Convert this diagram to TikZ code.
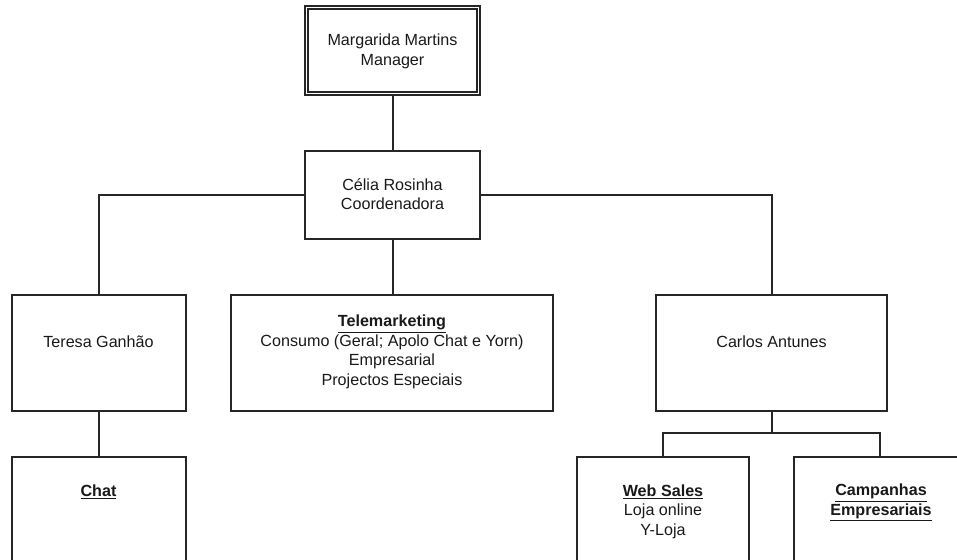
\documentclass[tikz,border=0pt]{standalone}
\usepackage{fontspec}
\setmainfont{Liberation Sans}
\begin{document}
\begin{tikzpicture}[x=0.75pt,y=-0.75pt,
  box/.style={draw=black!85,line width=1.4pt,minimum width=#1,inner sep=0pt},
  conn/.style={draw=black!85,line width=1.5pt},
  txt/.style={align=center,inner sep=0pt,text=black!90,font=\fontsize{12.1}{14.6}\selectfont}
]
\useasboundingbox (0,0) rectangle (957,560);
\clip (0,0) rectangle (957,560);

% boxes
\node[box=131.25pt,minimum height=66.75pt] (mgr) at (392.5,50.5) {};
\draw[line width=1.2pt,black!85] ([xshift=3pt,yshift=-3pt]mgr.north west) rectangle ([xshift=-3pt,yshift=3pt]mgr.south east);
\node[box=131.25pt,minimum height=66pt] (coord) at (392.5,195) {};
\node[box=130.5pt,minimum height=87pt] (teresa) at (99,353) {};
\node[box=241.5pt,minimum height=87pt] (tele) at (392,353) {};
\node[box=173.25pt,minimum height=87pt] (carlos) at (771.5,353) {};
\node[box=130.5pt,minimum height=87pt] (chat) at (99,515) {};
\node[box=129pt,minimum height=87pt] (web) at (663,515) {};
\node[box=129pt,minimum height=87pt] (camp) at (880,515) {};

% texts
\node[txt] (tmgr) at (392.5,51.5) {Margarida Martins\\Manager};
\node[txt] (tcoord) at (392.5,194) {Célia Rosinha\\Coordenadora};
\node[txt] (tteresa) at (98.5,342) {Teresa Ganhão};
\node[txt] (ttele) at (392,352) {\underline{\textbf{Telemarketing}}\\Consumo (Geral; Apolo Chat e Yorn)\\Empresarial\\Projectos Especiais};
\node[txt] (tcarlos) at (771.5,342) {Carlos Antunes};
\node[txt] (tchat) at (98.5,492) {\underline{\textbf{Chat}}};
\node[txt] (tweb) at (663,511.5) {\underline{\textbf{Web Sales}}\\Loja online\\Y-Loja};
\node[txt] (tcamp) at (881,502.5) {\underline{\textbf{Campanhas}}\\\underline{\textbf{Empresariais}}};

% connectors
\coordinate (cj) at (771.5,433);
\draw[conn] (mgr.south) -- (coord.north);
\draw[conn] (coord.west) -| (teresa.north);
\draw[conn] (coord.east) -| (carlos.north);
\draw[conn] (coord.south) -- (coord.south |- tele.north);
\draw[conn] (teresa.south) -- (chat.north);
\draw[conn] (carlos.south) -- (cj);
\draw[conn] (web.north) |- (cj) -| (camp.north);
\end{tikzpicture}
\end{document}
